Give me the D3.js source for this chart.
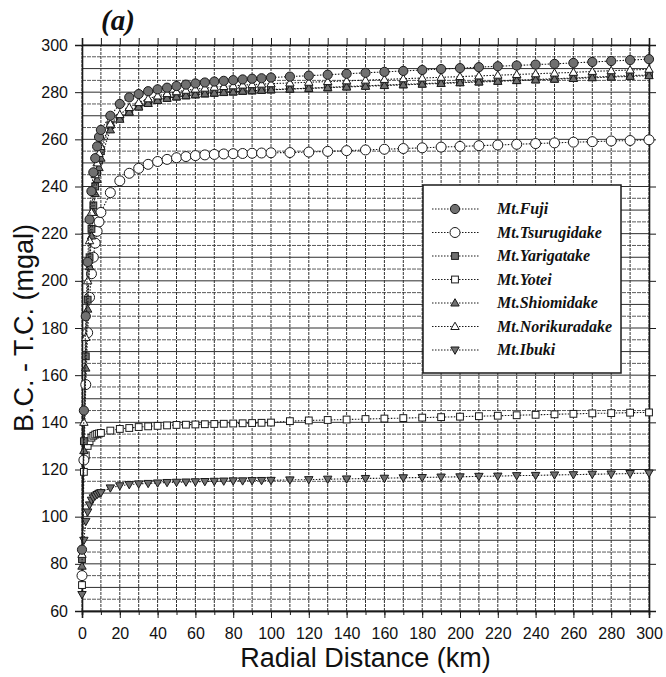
<!DOCTYPE html>
<html>
<head>
<meta charset="utf-8">
<script src="https://cdn.jsdelivr.net/npm/d3@7"></script>
<style>
  html, body { margin: 0; padding: 0; background: #fff; }
  svg { display: block; }
</style>
</head>
<body>
<div id="chart"></div>
<script>
// radial distance (km) at which each value was read
const distances = [0, 1, 2, 3, 4, 5, 6, 7, 8, 9, 10,
  15, 20, 25, 30, 35, 40, 45, 50, 55, 60, 65, 70, 75, 80, 85, 90, 95, 100,
  110, 120, 130, 140, 150, 160, 170, 180, 190, 200, 210, 220, 230, 240, 250, 260, 270, 280, 290, 300]

const fuji = [86, 145, 185, 208, 226, 238, 246, 252, 257, 261, 264,
  270, 275, 277.8, 279.2, 280.4, 281.2, 281.9, 282.6, 283.2, 283.7, 284.1, 284.5, 284.8, 285.1, 285.4, 285.7, 285.9, 286.2,
  286.6, 287.0, 287.4, 287.8, 288.2, 288.6, 289.0, 289.4, 289.8, 290.2, 290.6, 291.0, 291.3, 291.7, 292.0, 292.4, 292.8, 293.2, 293.6, 294.0]

const tsurugidake = [75, 124, 156, 178, 193, 203, 210, 216, 221, 225, 229,
  237.4, 242.4, 245.6, 247.7, 249.4, 250.6, 251.5, 252.2, 252.7, 253.1, 253.4, 253.6, 253.8, 253.9, 254.0, 254.1, 254.2, 254.3,
  254.4, 254.6, 254.9, 255.2, 255.5, 255.8, 256.1, 256.4, 256.7, 257.0, 257.3, 257.6, 257.9, 258.2, 258.5, 258.8, 259.0, 259.3, 259.5, 259.8]

const yarigatake = [82, 132, 168, 192, 210, 222, 232, 240, 246, 251, 255,
  266, 269, 271.7, 273.9, 275.4, 276.7, 277.5, 278.1, 278.6, 279.0, 279.4, 279.7, 280.0, 280.2, 280.5, 280.7, 280.9, 281.1,
  281.4, 281.7, 282.0, 282.4, 282.7, 283.0, 283.3, 283.6, 283.9, 284.2, 284.5, 284.8, 285.1, 285.4, 285.7, 286.0, 286.4, 286.7, 287.0, 287.3]

const yotei = [71, 119, 126, 130, 132, 133.5, 134.3, 134.8, 135.1, 135.3, 135.5,
  136.5, 137.2, 137.6, 138.0, 138.3, 138.5, 138.7, 138.9, 139.0, 139.1, 139.2, 139.3, 139.4, 139.5, 139.6, 139.7, 139.8, 139.9,
  140.5, 140.8, 141.0, 141.2, 141.4, 141.6, 141.8, 142.0, 142.2, 142.4, 142.6, 142.8, 143.0, 143.2, 143.4, 143.6, 143.8, 143.9, 144.1, 144.2]

const shiomidake = [79, 128, 163, 188, 206, 219, 229, 237, 243, 248, 252,
  264, 268.5, 271.5, 273.7, 275.2, 276.5, 277.4, 278.0, 278.5, 278.9, 279.3, 279.6, 279.9, 280.1, 280.4, 280.6, 280.8, 281.0,
  281.3, 281.6, 281.9, 282.2, 282.5, 282.8, 283.1, 283.4, 283.7, 284.0, 284.3, 284.6, 284.9, 285.2, 285.5, 285.8, 286.1, 286.4, 286.7, 287.0]

const norikuradake = [84, 140, 176, 200, 217, 229, 238, 245, 250, 254, 257,
  266.5, 270.5, 273.5, 275.6, 277.2, 278.4, 279.4, 280.2, 280.8, 281.3, 281.7, 282.1, 282.4, 282.7, 283.0, 283.2, 283.4, 283.6,
  283.9, 284.2, 284.5, 284.8, 285.1, 285.4, 285.7, 286.0, 286.3, 286.6, 286.9, 287.2, 287.5, 287.8, 288.1, 288.4, 288.8, 289.1, 289.4, 289.7]

const ibuki = [67, 90, 98, 102, 105, 107, 108, 108.8, 109.4, 109.9, 110.2,
  112.2, 113.1, 113.6, 113.9, 114.1, 114.3, 114.5, 114.6, 114.7, 114.8, 114.9, 115.0, 115.1, 115.2, 115.2, 115.3, 115.35, 115.4,
  115.6, 115.7, 115.9, 116.0, 116.2, 116.3, 116.5, 116.6, 116.8, 116.9, 117.1, 117.2, 117.4, 117.5, 117.7, 117.8, 118.0, 118.1, 118.3, 118.5]

const seriesNames = ['Mt.Fuji', 'Mt.Tsurugidake', 'Mt.Yarigatake', 'Mt.Yotei', 'Mt.Shiomidake', 'Mt.Norikuradake', 'Mt.Ibuki']
const seriesValues = [fuji, tsurugidake, yarigatake, yotei, shiomidake, norikuradake, ibuki]
const seriesMarkers = ['circleFilled', 'circleOpen', 'squareFilled', 'squareOpen', 'triUpFilled', 'triUpOpen', 'triDownFilled']

const xTicks = [0, 20, 40, 60, 80, 100, 120, 140, 160, 180, 200, 220, 240, 260, 280, 300]
const yTicks = [60, 80, 100, 120, 140, 160, 180, 200, 220, 240, 260, 280, 300]
const xGrid = [0, 10, 20, 30, 40, 50, 60, 70, 80, 90, 100, 110, 120, 130, 140, 150, 160, 170, 180, 190, 200, 210, 220, 230, 240, 250, 260, 270, 280, 290, 300]
const yGrid = [60, 65, 70, 75, 80, 85, 90, 95, 100, 105, 110, 115, 120, 125, 130, 135, 140, 145, 150, 155, 160, 165, 170, 175, 180, 185, 190, 195, 200,
  205, 210, 215, 220, 225, 230, 235, 240, 245, 250, 255, 260, 265, 270, 275, 280, 285, 290, 295, 300]

const W = 666, H = 677
const margin = { top: 45, right: 17, bottom: 66, left: 82 }
const sans = '"Liberation Sans", Arial, sans-serif'
const serif = '"Liberation Serif", "Times New Roman", serif'
const ink = '#1a1a1a'
const fillGray = '#707070'

const x = d3.scaleLinear().domain([0, 300]).range([margin.left, W - margin.right])
const y = d3.scaleLinear().domain([60, 300]).range([H - margin.bottom, margin.top])

const svg = d3.select('#chart').append('svg')
  .attr('width', W).attr('height', H)
  .attr('viewBox', `0 0 ${W} ${H}`)

// grid (scanned look: darker lines every 10, dashed in-between)
svg.append('g').attr('class', 'grid-y')
  .selectAll('line').data(yGrid).join('line')
  .attr('x1', x(0)).attr('x2', x(300))
  .attr('y1', d => y(d)).attr('y2', d => y(d))
  .attr('stroke', d => d % 10 === 0 ? '#2e2e2e' : '#5a5a5a')
  .attr('stroke-width', 1)
  .attr('stroke-dasharray', d => d % 10 === 0 ? null : '4,1')

svg.append('g').attr('class', 'grid-x')
  .selectAll('line').data(xGrid).join('line')
  .attr('x1', d => x(d)).attr('x2', d => x(d))
  .attr('y1', y(60)).attr('y2', y(300))
  .attr('stroke', '#333').attr('stroke-width', 1)
  .attr('stroke-dasharray', '3,1')

// axes: frame with outward ticks on all four sides
function styleAxis(g) {
  g.select('.domain').attr('stroke', ink).attr('stroke-width', 1.6)
  g.selectAll('.tick line').attr('stroke', ink).attr('stroke-width', 1)
  g.selectAll('.tick text')
    .attr('fill', '#111').attr('font-size', '16px')
    .attr('font-family', sans)
}

svg.append('g')
  .attr('transform', `translate(0,${y(60)})`)
  .call(d3.axisBottom(x).tickValues(xGrid).tickSize(4).tickFormat(''))
  .call(styleAxis)
svg.append('g')
  .attr('transform', `translate(0,${y(60)})`)
  .call(d3.axisBottom(x).tickValues(xTicks).tickSize(7).tickPadding(10).tickFormat(d3.format('d')))
  .call(styleAxis)

svg.append('g')
  .attr('transform', `translate(0,${y(300)})`)
  .call(d3.axisTop(x).tickValues(xGrid).tickSize(7).tickFormat(''))
  .call(styleAxis)

svg.append('g')
  .attr('transform', `translate(${x(0)},0)`)
  .call(d3.axisLeft(y).tickValues(yTicks).tickSize(7).tickPadding(7).tickFormat(d3.format('d')))
  .call(styleAxis)

svg.append('g')
  .attr('transform', `translate(${x(300)},0)`)
  .call(d3.axisRight(y).tickValues(yTicks).tickSize(7).tickFormat(''))
  .call(styleAxis)

// axis titles
svg.append('text')
  .attr('x', (x(0) + x(300)) / 2).attr('y', 667)
  .attr('text-anchor', 'middle')
  .attr('font-family', sans).attr('font-size', '27px').attr('fill', '#111')
  .text('Radial Distance (km)')

svg.append('text')
  .attr('transform', `translate(33,${(y(60) + y(300)) / 2}) rotate(-90)`)
  .attr('text-anchor', 'middle')
  .attr('font-family', sans).attr('font-size', '27px').attr('fill', '#111')
  .text('B.C. - T.C. (mgal)')

svg.append('text')
  .attr('x', 118).attr('y', 30)
  .attr('text-anchor', 'middle')
  .attr('font-family', serif).attr('font-size', '29px')
  .attr('font-style', 'italic').attr('font-weight', 'bold').attr('fill', '#111')
  .text('(a)')

// marker drawing
function drawMarker(sel, type) {
  const filled = type.endsWith('Filled')
  const fill = filled ? fillGray : '#fff'
  if (type.startsWith('circle')) {
    sel.append('circle').attr('r', type === 'circleOpen' ? 5 : 4.6)
      .attr('fill', fill).attr('stroke', ink).attr('stroke-width', 1)
  } else if (type.startsWith('square')) {
    sel.append('rect').attr('x', -3.4).attr('y', -3.4).attr('width', 6.8).attr('height', 6.8)
      .attr('fill', fill).attr('stroke', ink).attr('stroke-width', 1)
  } else if (type.startsWith('triUp')) {
    sel.append('path').attr('d', 'M0,-4.3L4.2,3L-4.2,3Z')
      .attr('fill', fill).attr('stroke', ink).attr('stroke-width', 1)
  } else {
    sel.append('path').attr('d', 'M0,4.3L4.2,-3L-4.2,-3Z')
      .attr('fill', fill).attr('stroke', ink).attr('stroke-width', 1)
  }
}

const line = d3.line().x(d => x(d[0])).y(d => y(d[1]))

// draw series in reverse so Mt.Fuji sits on top
const order = [6, 3, 1, 2, 4, 5, 0]
order.forEach(i => {
  const pts = distances.map((d, j) => [d, seriesValues[i][j]])
  const g = svg.append('g').attr('class', 'series')
  g.append('path').datum(pts)
    .attr('d', line)
    .attr('fill', 'none').attr('stroke', ink)
    .attr('stroke-width', 1.1).attr('stroke-dasharray', '1.5,1.5')
  g.selectAll('g.pt').data(pts).join('g')
    .attr('class', 'pt')
    .attr('transform', d => `translate(${x(d[0])},${y(d[1])})`)
    .each(function () { drawMarker(d3.select(this), seriesMarkers[i]) })
})

// legend
const legend = svg.append('g').attr('class', 'legend')
legend.append('rect')
  .attr('x', 423).attr('y', 185).attr('width', 198).attr('height', 188)
  .attr('fill', '#fff').attr('stroke', ink).attr('stroke-width', 1.5)

seriesNames.forEach((name, i) => {
  const ly = 209 + i * 23.5
  legend.append('line')
    .attr('x1', 432).attr('x2', 479).attr('y1', ly).attr('y2', ly)
    .attr('stroke', ink).attr('stroke-width', 1.1).attr('stroke-dasharray', '1.5,1.5')
  drawMarker(legend.append('g').attr('transform', `translate(455,${ly})`), seriesMarkers[i])
  legend.append('text')
    .attr('x', 497).attr('y', ly + 5)
    .attr('font-family', serif).attr('font-size', '16px')
    .attr('font-style', 'italic').attr('font-weight', 'bold').attr('fill', '#111')
    .text(name)
})
</script>
</body>
</html>
